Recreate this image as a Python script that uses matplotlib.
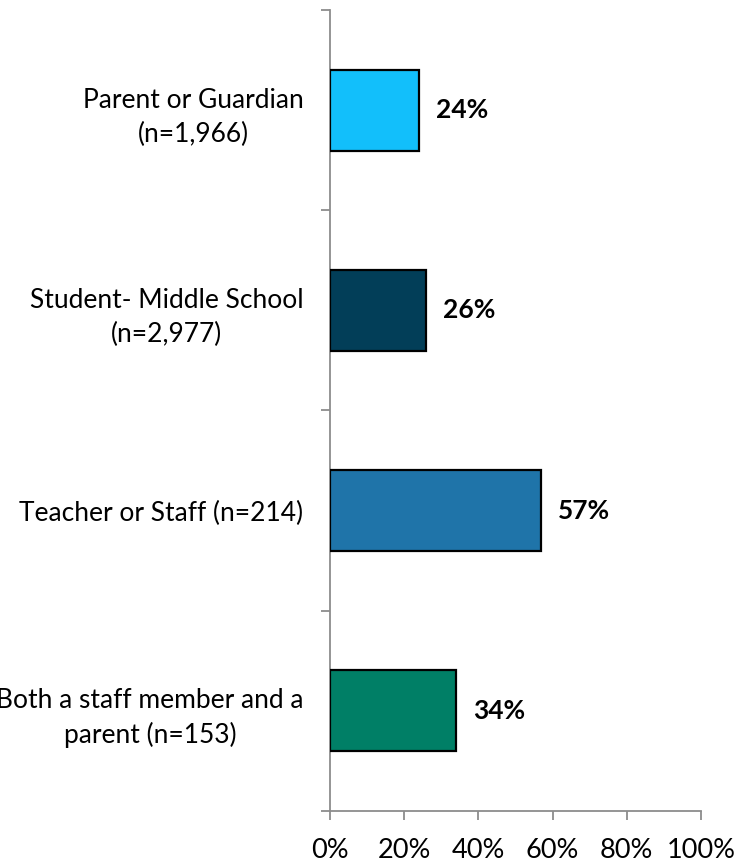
import matplotlib
matplotlib.use("Agg")
import matplotlib.pyplot as plt
from matplotlib.ticker import FixedLocator, NullFormatter

categories = [
    "Parent or Guardian\n(n=1,966)",
    "Student- Middle School\n(n=2,977)",
    "Teacher or Staff (n=214)",
    "Both a staff member and a\nparent (n=153)",
]
values = [24, 26, 57, 34]
colors = ["#12BFFB", "#023E58", "#1F74A9", "#007F66"]
xticks = [0, 20, 40, 60, 80, 100]
xtick_labels = ["0%", "20%", "40%", "60%", "80%", "100%"]

FONT = "Lato"
W, H, DPI = 737, 863, 100
fig = plt.figure(figsize=(W / DPI, H / DPI), dpi=DPI)
ax = fig.add_axes([330 / W, 1 - 811 / H, (701 - 330) / W, (811 - 10) / H])

n = len(categories)
ypos = list(range(n - 1, -1, -1))
ax.barh(ypos, values, height=0.405, color=colors, edgecolor="black", linewidth=1.6, zorder=3)

for y, v in zip(ypos, values):
    ax.text(v + 4.5, y, f"{v}%", va="center", ha="left", fontsize=19,
            fontweight="bold", family=FONT, color="black")

ax.set_xlim(0, 100)
ax.set_ylim(-0.5, n - 0.5)

gray = "#8C8C8C"
for side in ("top", "right"):
    ax.spines[side].set_visible(False)
for side in ("left", "bottom"):
    ax.spines[side].set_color(gray)
    ax.spines[side].set_linewidth(1.3)

ax.set_xticks(xticks)
ax.set_xticklabels(xtick_labels, fontsize=19.5, family=FONT)
ax.tick_params(axis="x", direction="out", length=6.5, width=1.3, color=gray, pad=13)

# category boundaries as major ticks, labels at centers as minor ticks
ax.yaxis.set_major_locator(FixedLocator([i - 0.5 for i in range(n + 1)]))
ax.yaxis.set_major_formatter(NullFormatter())
ax.tick_params(axis="y", which="major", direction="out", length=6.5, width=1.3, color=gray)
ax.set_yticks(ypos, minor=True)
ax.set_yticklabels(categories, minor=True, fontsize=19, family=FONT,
                   multialignment="center", linespacing=1.45)
ax.tick_params(axis="y", which="minor", length=0, pad=19)

fig.savefig("out.png", dpi=DPI)
